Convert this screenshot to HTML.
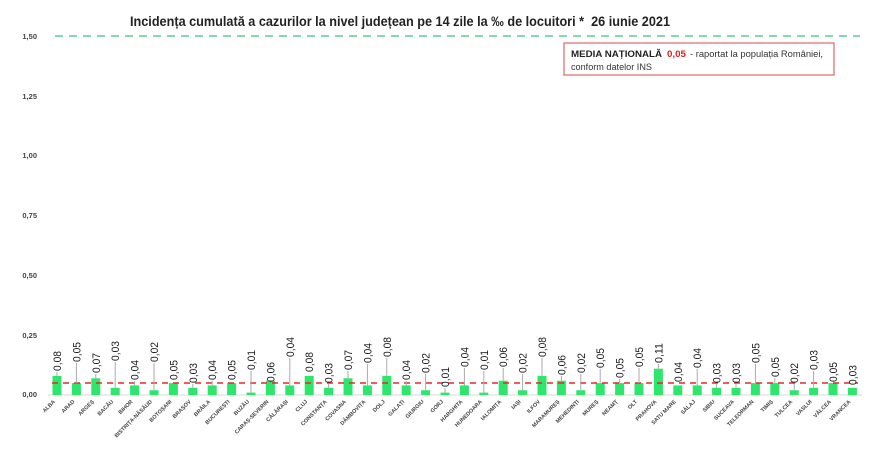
<!DOCTYPE html>
<html><head><meta charset="utf-8"><style>
html,body{margin:0;padding:0;background:#fff;}
svg{display:block;}
text{font-family:"Liberation Sans",sans-serif;}
</style></head><body>
<svg width="880" height="449" viewBox="0 0 880 449" xmlns="http://www.w3.org/2000/svg">
<rect width="880" height="449" fill="#fff"/>
<text x="130" y="26" font-size="13.5" font-weight="bold" fill="#222" textLength="540" lengthAdjust="spacingAndGlyphs">Incidența cumulată a cazurilor la nivel județean pe 14 zile la ‰ de locuitori *&#160; 26 iunie 2021</text>
<line x1="55" y1="36" x2="860" y2="36" stroke="#3fbf85" stroke-width="1.3" stroke-dasharray="8,6"/>
<g font-size="7.5" font-weight="bold" fill="#444" text-anchor="end">
<text x="37" y="39">1,50</text>
<text x="37" y="99">1,25</text>
<text x="37" y="158">1,00</text>
<text x="37" y="218">0,75</text>
<text x="37" y="278">0,50</text>
<text x="37" y="338">0,25</text>
<text x="37" y="397">0,00</text>
</g>
<rect x="564" y="43" width="270" height="32" fill="#fff" stroke="#e06666" stroke-width="1.2"/>
<text x="571" y="57" font-size="9" font-weight="bold" fill="#222" textLength="91" lengthAdjust="spacingAndGlyphs">MEDIA NAȚIONALĂ</text>
<text x="667" y="57" font-size="9" font-weight="bold" fill="#e02020" textLength="19" lengthAdjust="spacingAndGlyphs">0,05</text>
<text x="690" y="57" font-size="9" fill="#333" textLength="133" lengthAdjust="spacingAndGlyphs">- raportat la populația României,</text>
<text x="571" y="70" font-size="9" fill="#333" textLength="81" lengthAdjust="spacingAndGlyphs">conform datelor INS</text>
<line x1="48" y1="395" x2="862" y2="395" stroke="#d9d9d9" stroke-width="1"/>
<g id="chart"></g>
</svg>
<script>
(function(){
var names=["ALBA","ARAD","ARGEȘ","BACĂU","BIHOR","BISTRIȚA-NĂSĂUD","BOTOȘANI","BRAȘOV","BRĂILA","BUCUREȘTI","BUZĂU","CARAȘ-SEVERIN","CĂLĂRAȘI","CLUJ","CONSTANȚA","COVASNA","DÂMBOVIȚA","DOLJ","GALAȚI","GIURGIU","GORJ","HARGHITA","HUNEDOARA","IALOMIȚA","IAȘI","ILFOV","MARAMUREȘ","MEHEDINȚI","MUREȘ","NEAMȚ","OLT","PRAHOVA","SATU MARE","SĂLAJ","SIBIU","SUCEAVA","TELEORMAN","TIMIȘ","TULCEA","VASLUI","VÂLCEA","VRANCEA"];
var vals=[0.08,0.05,0.07,0.03,0.04,0.02,0.05,0.03,0.04,0.05,0.01,0.06,0.04,0.08,0.03,0.07,0.04,0.08,0.04,0.02,0.01,0.04,0.01,0.06,0.02,0.08,0.06,0.02,0.05,0.05,0.05,0.11,0.04,0.04,0.03,0.03,0.05,0.05,0.02,0.03,0.05,0.03];
var lb=[371,362,373,361,380,362,380,383,380,380,370,382,357,372,383,370,363,357,380,373,387,367,370,367,373,357,375,373,368,378,367,363,382,368,383,383,363,377,383,370,382,385];
var g=document.getElementById("chart");
var h="";
for(var i=0;i<42;i++){
 var cx=57+i*19.4;
 var top=395-vals[i]*239;
 h+='<rect x="'+(cx-4.5).toFixed(1)+'" y="'+top.toFixed(1)+'" width="9" height="'+(395-top).toFixed(1)+'" fill="#2ee66c"/>';
}
h+='<line x1="52" y1="383" x2="858" y2="383" stroke="#e8262a" stroke-width="1.6" stroke-dasharray="6,5"/>';
for(var i=0;i<42;i++){
 var cx=57+i*19.4;
 var top=395-vals[i]*239;
 var v=vals[i].toFixed(2).replace(".",",");
 if(lb[i]<top-4){
  h+='<line x1="'+cx.toFixed(1)+'" y1="'+(lb[i]+1)+'" x2="'+cx.toFixed(1)+'" y2="'+top.toFixed(1)+'" stroke="#aaa" stroke-width="1"/>';
 }
 h+='<text transform="translate('+(cx+4).toFixed(1)+','+lb[i]+') rotate(-90)" font-size="11" fill="#1a1a1a" textLength="20" lengthAdjust="spacingAndGlyphs">'+v+'</text>';
 h+='<text transform="translate('+(cx-1.5).toFixed(1)+',402) rotate(-45)" font-size="5.5" font-weight="bold" fill="#444" text-anchor="end">'+names[i]+'</text>';
}
g.innerHTML=h;
})();
</script>
</body></html>
